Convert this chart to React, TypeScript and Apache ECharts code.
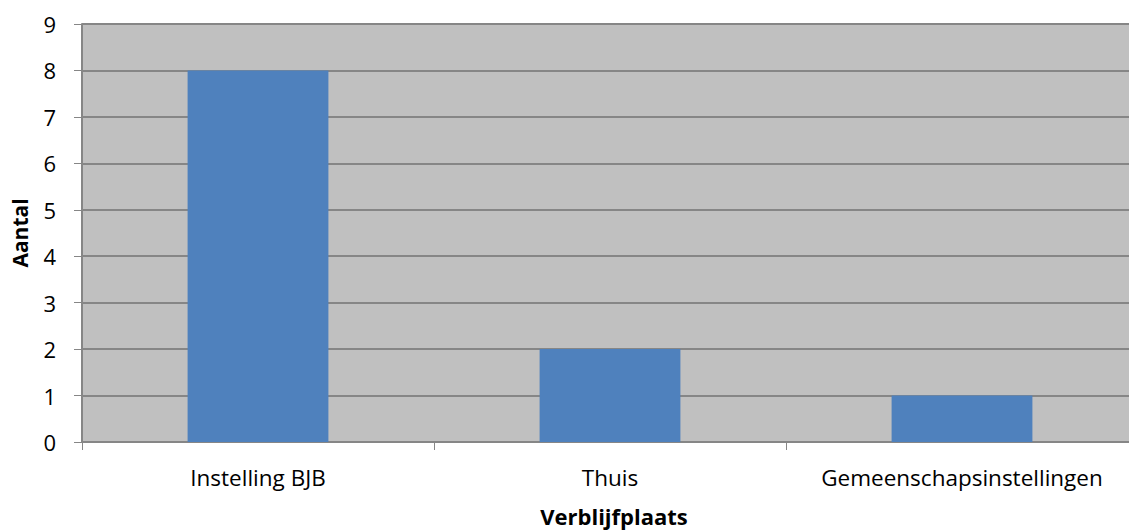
import React, { useEffect, useRef } from "react";
import * as echarts from "echarts";

const categories = ["Instelling BJB", "Thuis", "Gemeenschapsinstellingen"];
const values = [8, 2, 1];
const yMin = 0;
const yMax = 9;
const yInterval = 1;

export default function App() {
  const ref = useRef<HTMLDivElement>(null);
  useEffect(() => {
    if (!ref.current) return;
    const chart = echarts.init(ref.current, undefined, { renderer: "svg" });
    const font = "Open Sans";
    chart.setOption({
      animation: false,
      textStyle: { fontFamily: font, color: "#000" },
      grid: {
        left: 82,
        right: 0,
        top: 24,
        bottom: 86,
        show: true,
        backgroundColor: "#C0C0C0",
        borderWidth: 0,
        containLabel: false,
      },
      xAxis: {
        type: "category",
        data: categories,
        name: "Verblijfplaats",
        nameLocation: "middle",
        nameGap: 63,
        nameTextStyle: { fontFamily: font, fontSize: 22, fontWeight: "bold", color: "#000", padding: [0, 0, 0, 8] },
        axisLine: { show: true, lineStyle: { color: "#868686", width: 2 } },
        axisTick: { show: true, alignWithLabel: false, length: 8, lineStyle: { color: "#868686", width: 1 } },
        axisLabel: { fontFamily: font, fontSize: 22.5, color: "#000", margin: 24, interval: 0 },
        splitLine: { show: false },
      },
      yAxis: {
        type: "value",
        min: yMin,
        max: yMax,
        interval: yInterval,
        name: "Aantal",
        nameLocation: "middle",
        nameGap: 52,
        nameRotate: 90,
        nameTextStyle: { fontFamily: font, fontSize: 21, fontWeight: "bold", color: "#000" },
        axisLine: { show: true, lineStyle: { color: "#868686", width: 2 } },
        axisTick: { show: true, length: 8, lineStyle: { color: "#868686", width: 1 } },
        axisLabel: { fontFamily: font, fontSize: 22, color: "#000", margin: 26 },
        splitLine: { show: true, lineStyle: { color: "#868686", width: 2 } },
      },
      series: [
        {
          type: "bar",
          data: values,
          barWidth: "40%",
          itemStyle: { color: "#4F81BD" },
          z: 1,
        },
      ],
    });
    return () => chart.dispose();
  }, []);
  return (
    <div style={{ position: "fixed", left: 0, top: 0, width: 1129, height: 532, background: "#fff", overflow: "hidden" }}>
      <div ref={ref} style={{ width: 1138, height: 532 }} />
    </div>
  );
}
